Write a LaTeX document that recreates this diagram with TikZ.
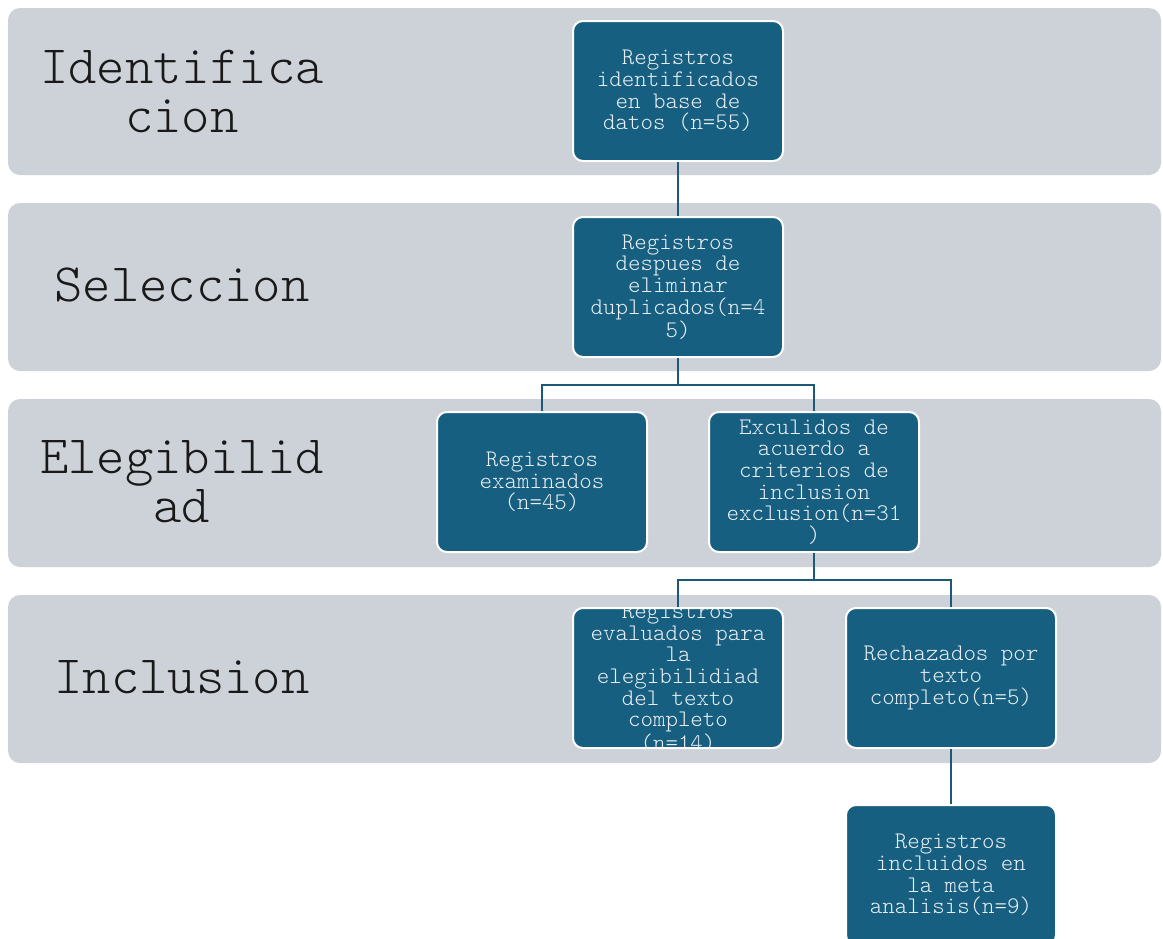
\documentclass[tikz,border=0pt]{standalone}
\usepackage{fontspec}
\setmonofont{Latin Modern Mono Light}
\usepackage{tikz}
\usetikzlibrary{calc}

\definecolor{bandgray}{RGB}{205,210,217}
\definecolor{boxblue}{RGB}{23,95,128}
\definecolor{boxtext}{RGB}{232,238,242}
\definecolor{linkblue}{RGB}{30,88,120}

\tikzset{
  band/.style={fill=bandgray, rounded corners=12pt},
  bandlabel/.style={font=\fontsize{54}{49}\selectfont\ttfamily, text=black!90, align=center},
  regtext/.style={font=\fontsize{23.8}{21.7}\selectfont\ttfamily, text=boxtext, align=center, inner sep=0pt},
  regbox/.style={fill=boxblue, draw=white, line width=2pt, rounded corners=10pt,
    minimum width=210pt, minimum height=140pt, inner sep=0pt,
    path picture={\node[regtext] at (path picture bounding box.center) {#1};}},
  link/.style={draw=linkblue, line width=2pt}
}

\begin{document}
\begin{tikzpicture}[x=1pt, y=-1pt]
  \useasboundingbox (0,0) rectangle (1163,938);

  % ---------- Stage bands ----------
  \fill[band] (8,8)   rectangle (1161,175);
  \fill[band] (8,203) rectangle (1161,371);
  \fill[band] (8,399) rectangle (1161,567);
  \fill[band] (8,595) rectangle (1161,763);

  \node[bandlabel] (lblident) at (182,91)  {Identifica\\cion};
  \node[bandlabel] (lblsel)   at (182,285) {Seleccion};
  \node[bandlabel] (lblelig)  at (182,482) {Elegibilid\\ad};
  \node[bandlabel] (lblincl)  at (182,677) {Inclusion};

  % ---------- Record boxes ----------
  \node[regbox={Registros\\identificados\\en base de\\datos (n=55)}] (ident) at (678,91) {};
  \node[regbox={Registros\\despues de\\eliminar\\duplicados(n=4\\5)}] (dup) at (678,287) {};
  \node[regbox={Registros\\examinados\\(n=45)}] (exam) at (542,482) {};
  \node[regbox={Exculidos de\\acuerdo a\\criterios de\\inclusion\\exclusion(n=31\\)}] (excl) at (814,482) {};
  \node[regbox={Registros\\evaluados para\\la\\elegibilidiad\\del texto\\completo\\(n=14)}] (evalu) at (678,678) {};
  \node[regbox={Rechazados por\\texto\\completo(n=5)}] (rech) at (951,678) {};
  \node[regbox={Registros\\incluidos en\\la meta\\analisis(n=9)}] (incl) at (951,875) {};

  % ---------- Connectors ----------
  \draw[link] (ident) -- (dup);
  \draw[link] (dup.south) -- ++(0,27) coordinate (splitA) -| (exam.north);
  \draw[link] (splitA) -| (excl.north);
  \draw[link] (excl.south) -- ++(0,27) coordinate (splitB) -| (evalu.north);
  \draw[link] (splitB) -| (rech.north);
  \draw[link] (rech) -- (incl);

\end{tikzpicture}
\end{document}
